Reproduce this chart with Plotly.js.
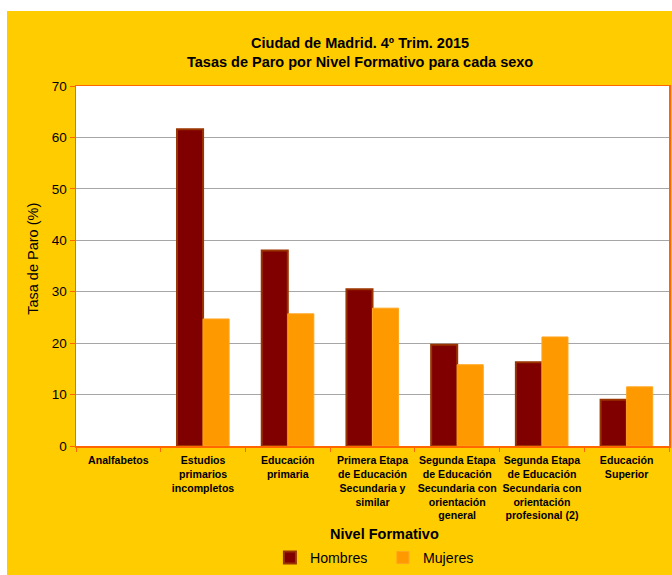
<!DOCTYPE html>
<html>
<head>
<meta charset="utf-8">
<script src="https://cdn.plot.ly/plotly-3.0.1.min.js"></script>
<style>
  html, body { margin: 0; padding: 0; background: #ffffff; }
  #chart { position: absolute; left: 7px; top: 11px; width: 665px; height: 564px; }
</style>
</head>
<body>
<div id="chart"></div>
<script>
const categories = [
  "Analfabetos",
  "Estudios<br>primarios<br>incompletos",
  "Educación<br>primaria",
  "Primera Etapa<br>de Educación<br>Secundaria y<br>similar",
  "Segunda Etapa<br>de Educación<br>Secundaria con<br>orientación<br>general",
  "Segunda Etapa<br>de Educación<br>Secundaria con<br>orientación<br>profesional (2)",
  "Educación<br>Superior"
];
const hombres = [null, 61.6, 38.0, 30.5, 19.7, 16.3, 9.0];
const mujeres = [null, 24.7, 25.7, 26.8, 15.8, 21.2, 11.5];
const yTicks = [0, 10, 20, 30, 40, 50, 60, 70];

const FONT = "Liberation Sans, Arial, sans-serif";

const traces = [
  {
    type: "bar", name: "Hombres", x: categories, y: hombres,
    marker: { color: "#800000", line: { color: "#993300", width: 2 } },
    hoverinfo: "y"
  },
  {
    type: "bar", name: "Mujeres", x: categories, y: mujeres,
    marker: { color: "#FF9900", line: { color: "#FFA51F", width: 1 } },
    hoverinfo: "y"
  }
];

const layout = {
  width: 665, height: 564,
  paper_bgcolor: "#FFCC00",
  plot_bgcolor: "#FFFFFF",
  margin: { l: 69, r: 3, t: 75, b: 128, pad: 0 },
  font: { family: FONT, color: "#000000", size: 13 },
  barmode: "group",
  bargap: 0.385,
  bargroupgap: 0,
  title: {
    text: "<b>Ciudad de Madrid. 4º Trim. 2015<br>Tasas de Paro por Nivel Formativo para cada sexo</b>",
    font: { family: FONT, size: 14.5, color: "#000000" },
    x: 0.531, xanchor: "center", xref: "container",
    y: 0.934, yanchor: "middle", yref: "container"
  },
  xaxis: {
    type: "category",
    showline: true, linecolor: "#FF6600", linewidth: 1.5, mirror: true,
    ticks: "outside", tickson: "boundaries", ticklen: 4, tickcolor: "#FF6600",
    ticklabelstandoff: 4, tickangle: 0,
    tickfont: { family: FONT, size: 10.6, color: "#000000", weight: "bold" },
    showgrid: false, zeroline: false, fixedrange: true
  },
  yaxis: {
    range: [0, 70], tickvals: yTicks, ticktext: yTicks.map(String),
    showline: true, linecolor: "#FF6600", linewidth: 1.5, mirror: true,
    ticks: "outside", ticklen: 5, tickcolor: "#FF6600",
    tickfont: { family: FONT, size: 13.5, color: "#000000" },
    showgrid: true, gridcolor: "#A6A6A6", gridwidth: 1,
    zeroline: false, fixedrange: true
  },
  showlegend: true,
  legend: {
    orientation: "h", x: 0.327, xanchor: "left", y: -0.307, yanchor: "middle",
    bgcolor: "rgba(0,0,0,0)", font: { family: FONT, size: 14.2, color: "#000000" },
    itemwidth: 30, traceorder: "normal", entrywidth: 68, entrywidthmode: "pixels"
  },
  annotations: [
    {
      text: "<b>Nivel Formativo</b>", xref: "paper", yref: "paper",
      x: 0.521, y: -0.244, xanchor: "center", yanchor: "middle", showarrow: false,
      font: { family: FONT, size: 14.5, color: "#000000" }
    },
    {
      text: "Tasa de Paro (%)", xref: "paper", yref: "paper",
      x: -0.0725, y: 0.52, xanchor: "center", yanchor: "middle", showarrow: false,
      textangle: -90, font: { family: FONT, size: 14.5, color: "#000000" }
    }
  ]
};

Plotly.newPlot("chart", traces, layout, { displayModeBar: false, staticPlot: true });
</script>
</body>
</html>
